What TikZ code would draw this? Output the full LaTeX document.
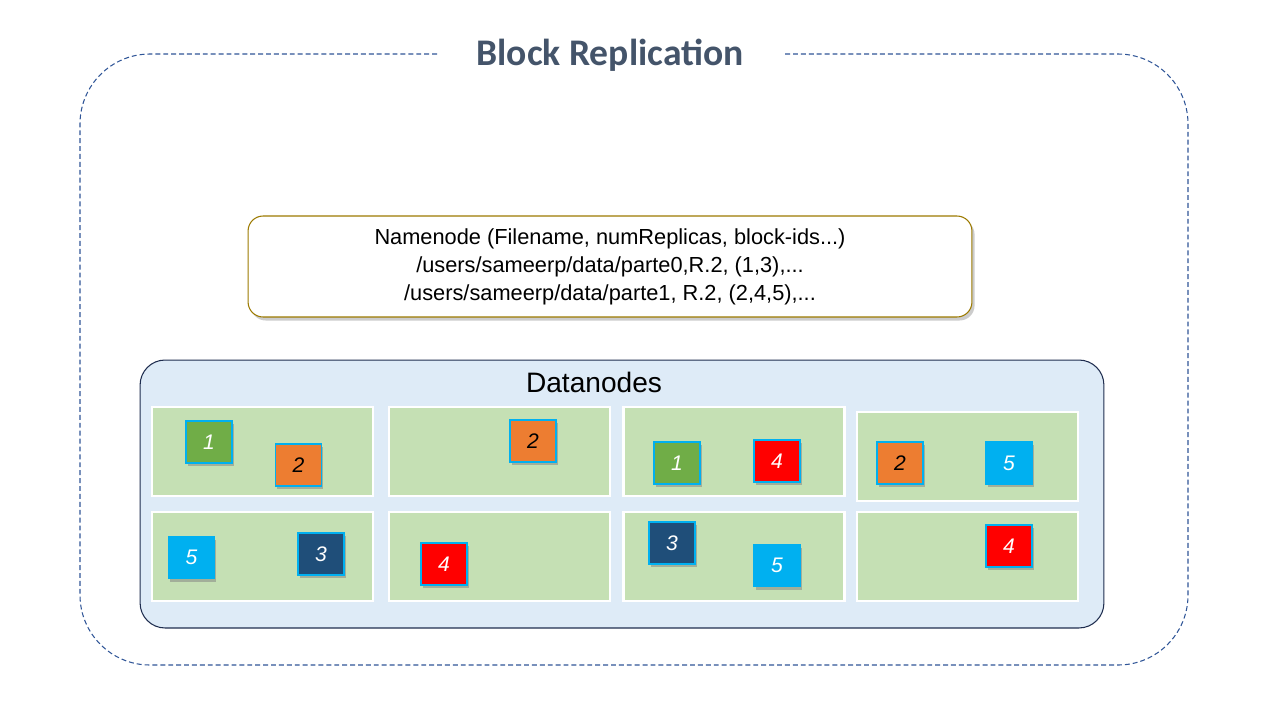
\documentclass[tikz,border=0pt]{standalone}
\usepackage{fontspec}
\setmainfont{Liberation Sans}
\newfontfamily\titlefont{Carlito}
\usetikzlibrary{shadows}
\definecolor{framebl}{HTML}{2F5597}
\definecolor{titlegray}{HTML}{44546A}
\definecolor{namegold}{HTML}{9C7A00}
\definecolor{dnfill}{HTML}{DEEBF7}
\definecolor{dnborder}{HTML}{1F2D4F}
\definecolor{hostgreen}{HTML}{C5E0B4}
\definecolor{blkborder}{HTML}{00B0F0}
\definecolor{bgreen}{HTML}{70AD47}
\definecolor{borange}{HTML}{ED7D31}
\definecolor{bred}{HTML}{FF0000}
\definecolor{bcyan}{HTML}{00B0F0}
\definecolor{bnavy}{HTML}{1F4E79}
\begin{document}
\begin{tikzpicture}[x=0.02cm,y=-0.02cm,
  block/.style={draw=blkborder, line width=0.9pt, minimum width=0.92cm, minimum height=0.84cm, inner sep=0pt,
    drop shadow={opacity=0.5, shadow xshift=1pt, shadow yshift=-1.8pt}, font=\itshape\fontsize{12}{14}\selectfont}]
\useasboundingbox (0,0) rectangle (1280,720);
% outer frame, open at the title
\draw[framebl, dash pattern=on 2.8pt off 1.7pt, line width=0.6pt, rounded corners=1.4cm] (437,54) -- (80,54) -- (80,665) -- (1188,665) -- (1188,54) -- (783,54);
\node[text=titlegray, font=\titlefont\bfseries\fontsize{21.4}{25}\selectfont] (title) at (610,55) {Block Replication};

\node[draw=namegold, line width=0.6pt, fill=white, rounded corners=0.3cm, minimum width=14.48cm, minimum height=2.02cm, align=center,
  drop shadow={opacity=0.4, shadow xshift=1.5pt, shadow yshift=-2pt}, font=\fontsize{12.4}{16}\selectfont] (namenode) at (610,266.5)
  {Namenode (Filename, numReplicas, block-ids...)\\ /users/sameerp/data/parte0,R.2, (1,3),...\\ /users/sameerp/data/parte1, R.2, (2,4,5),...};

\node[draw=dnborder, line width=0.6pt, fill=dnfill, rounded corners=0.5cm, minimum width=19.28cm, minimum height=5.36cm] (datanodes) at (622,494) {};
\node[font=\fontsize{16}{19}\selectfont] (dnlabel) at (594,382) {Datanodes};

\foreach \n/\x/\y in {a/262.5/451.5, b/499.5/451.5, c/734/451.5, d/967.5/456.5, e/262.5/556.5, f/499.5/556.5, g/734/556.5, h/967.5/556.5}
\node[draw=white, line width=1.2pt, fill=hostgreen, minimum width=4.42cm, minimum height=1.78cm] (host\n) at (\x,\y) {};

% blocks
\foreach \n/\x/\y/\k/\c/\t in {a1/209/442/1/bgreen/white, a2/298.5/465/2/borange/black, b2/533/441/2/borange/black,
  c1/677/463/1/bgreen/white, c4/777/461/4/bred/white, d2/900/463/2/borange/black, d5/1009/463/5/bcyan/white,
  e5/191.5/557.5/5/bcyan/white, e3/321/554/3/bnavy/white, f4/444/564/4/bred/white,
  g3/672/543/3/bnavy/white, g5/777/565.5/5/bcyan/white, h4/1009/546/4/bred/white}
\node[block, fill=\c, text=\t] (blk\n) at (\x,\y) {\k};
\end{tikzpicture}
\end{document}
